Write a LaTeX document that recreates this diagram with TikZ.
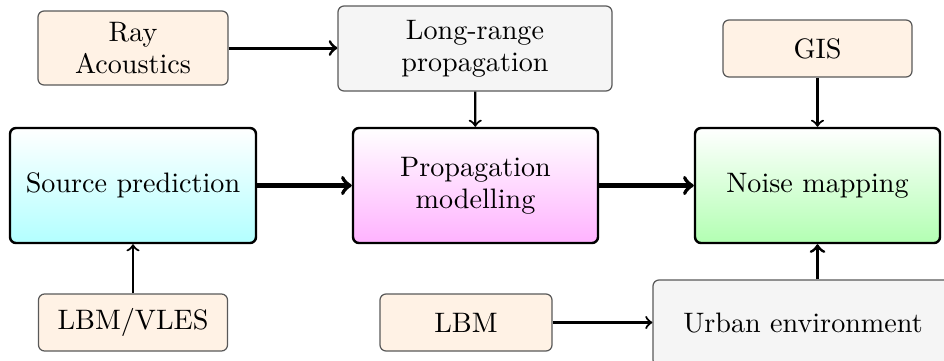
\documentclass[tikz,border=0pt]{standalone}
\usetikzlibrary{positioning}
\begin{document}
\begin{tikzpicture}[x=0.366pt,y=-0.366pt,
  every node/.style={font=\fontsize{10.3}{11.8}\selectfont},
  main/.style={draw=black, line width=0.9pt, rounded corners=2.2pt, align=center,
    inner sep=0pt},
  side/.style={draw=black!65, line width=0.45pt, rounded corners=2.2pt, align=center,
    inner sep=0pt},
  ext/.style={side, fill=orange!10},
  tool/.style={side, fill=black!4},
  flow/.style={->, line width=1.5pt},
  feed/.style={->, line width=1.1pt},
  link/.style={->, line width=0.8pt}]
\clip (0,0) rectangle (944,360);
\useasboundingbox (0,0) rectangle (944,360);
% side inputs
\node[ext, minimum width=190*0.366pt, minimum height=74*0.366pt] (ray) at (133,48) {Ray\\Acoustics};
\node[tool, minimum width=274*0.366pt, minimum height=85*0.366pt] (lrp) at (475,48.5) {Long-range\\propagation};
\node[ext, minimum width=189*0.366pt, minimum height=57*0.366pt] (gis) at (817.5,48.5) {GIS};
\node[ext, minimum width=189*0.366pt, minimum height=57*0.366pt] (vles) at (133,322.5) {LBM/VLES};
\node[ext, minimum width=172*0.366pt, minimum height=57*0.366pt] (lbm) at (466,322.5) {LBM};
\node[tool, minimum width=300*0.366pt, minimum height=86*0.366pt] (urban) at (803,323) {Urban environment};
% main chain
\node[main, top color=white, bottom color=cyan!30, minimum width=246*0.366pt, minimum height=115*0.366pt] (src) at (133,185.5) {Source prediction};
\node[main, top color=white, bottom color=magenta!30, minimum width=245*0.366pt, minimum height=115*0.366pt] (prop) at (475.5,185.5) {Propagation\\modelling};
\node[main, top color=white, bottom color=green!30, minimum width=245*0.366pt, minimum height=115*0.366pt] (noise) at (817.5,185.5) {Noise mapping};
% connectors
\draw[feed] (ray) -- (ray -| lrp.west);
\draw[link] (lrp) -- (prop);
\draw[link] (gis) -- (noise);
\draw[link] (vles) -- (src);
\draw[link] (lbm) -- (lbm -| urban.west);
\draw[feed] (urban.north -| noise) -- (noise.south);
\draw[flow] (src) -- (prop);
\draw[flow] (prop) -- (noise);
\end{tikzpicture}
\end{document}
